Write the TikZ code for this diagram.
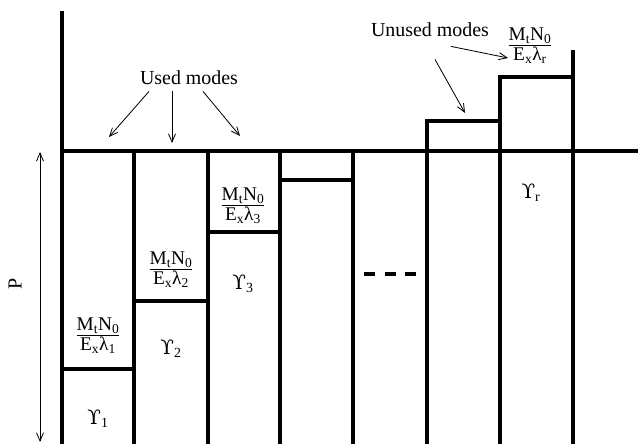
\documentclass[tikz,border=0pt]{standalone}
\usepackage{fontspec}
\setmainfont{Liberation Serif}
\newfontfamily\hookfont{DejaVu Serif}
\usetikzlibrary{arrows.meta,calc}

% mode cost label: MtN0 over Ex lambda_i
\newcommand{\modefrac}[1]{\begin{tabular}{@{}c@{}}M\textsubscript{t}N\textsubscript{0}\\[-1pt]\hline E\textsubscript{x}λ\textsubscript{#1}\end{tabular}}
% upsilon with hook
\newcommand{\ups}[1]{{\hookfont\fontsize{17}{19}\selectfont ϒ}\textsubscript{#1}}

\begin{document}
\begin{tikzpicture}[
  x=0.3mm, y=0.3mm,
  font=\fontsize{17}{19}\selectfont,
  wall/.style={line width=2.6pt},
  lbl/.style={inner sep=1pt},
  frc/.style={inner sep=0pt, font=\fontsize{16.5}{18}\selectfont},
  pointer/.style={line width=0.7pt, -{Straight Barb[length=7pt,width=6pt]}},
  >=Stealth
]
\useasboundingbox (0,0) rectangle (638,444);

% axis and water level
\draw[wall] (62,433) -- (62,0);
\draw[wall] (62,293) -- (638,293);

% mode walls
\foreach \xx in {134,208,280,353}
  \draw[wall] (\xx,293) -- (\xx,0);
\draw[wall] (427,0) -- (427,323) -- (500,323);
\draw[wall] (500,0) -- (500,367) -- (573,367);
\draw[wall] (573,0) -- (573,394);

% filling levels
\draw[wall] (62,75) -- (134,75);
\draw[wall] (134,143) -- (208,143);
\draw[wall] (208,212) -- (280,212);
\draw[wall] (280,264) -- (353,264);
\draw[line width=2.6pt, dash pattern=on 9.5pt off 8pt] (364,170) -- (417,170);

% labels in the columns
\node[frc] (f1) at (98,108) {\modefrac{1}};
\node[lbl] (u1) at (98,25) {\ups{1}};
\node[frc] (f2) at (171,174) {\modefrac{2}};
\node[lbl] (u2) at (171,95) {\ups{2}};
\node[frc] (f3) at (243,238) {\modefrac{3}};
\node[lbl] (u3) at (243,160) {\ups{3}};
\node[lbl] (ur) at (531,251) {\ups{r}};
\node[frc] (fr) at (530,398) {\modefrac{r}};

% pointers
\node[lbl] (used) at (189,366) {Used modes};
\coordinate (m1) at (109,307);
\coordinate (m2) at (172,301);
\coordinate (m3) at (240,308);
\draw[pointer] ($(used.south)+(-40,-5)$) -- (m1);
\draw[pointer] ($(used.south)+(-17,-5)$) -- (m2);
\draw[pointer] ($(used.south)+(14,-5)$) -- (m3);

\node[lbl] (unused) at (430,414) {Unused modes};
\coordinate (n1) at (465,331);
\coordinate (n2) at (508,386);
\draw[pointer] ($(unused.south)+(21,-8)$) -- (n2);
\draw[pointer] ($(unused.south)+(5,-21)$) -- (n1);

% power axis
\coordinate (ptop) at (40,292);
\coordinate (pbot) at (40,2);
\draw[line width=0.7pt, {Straight Barb[length=7pt,width=6pt]}-{Straight Barb[length=7pt,width=6pt]}] (ptop) -- (pbot);
\node[lbl, rotate=90] (pw) at (15,160) {P};

\end{tikzpicture}
\end{document}
